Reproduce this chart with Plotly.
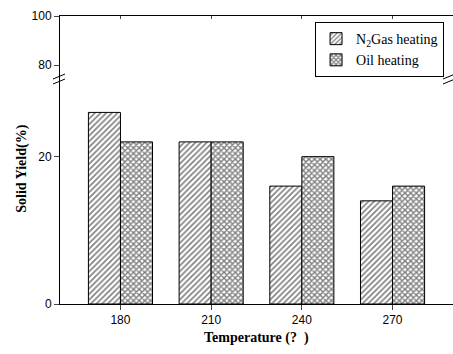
import plotly.graph_objects as go

temperatures = [180, 210, 240, 270]
n2_gas = [26, 22, 16, 14]
oil = [22, 22, 20, 16]
tick_labels = ["180", "210", "240", "270"]

BW = 10.6
fig = go.Figure()
fig.add_trace(go.Bar(
    x=temperatures, y=n2_gas, name="N<sub>2</sub>Gas heating",
    width=BW, offset=-BW,
    marker=dict(color="white", line=dict(color="black", width=1),
                pattern=dict(shape="/", fgcolor="black", bgcolor="white", size=4, solidity=0.4)),
    xaxis="x", yaxis="y"))
fig.add_trace(go.Bar(
    x=temperatures, y=oil, name="Oil heating",
    width=BW, offset=0,
    marker=dict(color="white", line=dict(color="black", width=1),
                pattern=dict(shape="x", fgcolor="black", bgcolor="white", size=4, solidity=0.6)),
    xaxis="x", yaxis="y"))

split = 224 / 288
axis_common = dict(showline=True, linecolor="black", linewidth=1, showgrid=False, zeroline=False)
fig.update_layout(
    width=453, height=354,
    margin=dict(l=60, r=0, t=16, b=50),
    paper_bgcolor="white", plot_bgcolor="white",
    barmode="overlay",
    font=dict(family="Liberation Sans", size=12, color="black"),
    xaxis=dict(range=[160, 290], tickvals=temperatures, ticktext=tick_labels,
               ticks="outside", ticklen=5, anchor="y", **axis_common),
    xaxis2=dict(range=[160, 290], tickvals=temperatures, showticklabels=False,
                ticks="inside", ticklen=3, anchor="y2", side="top", overlaying="x", **axis_common),
    yaxis=dict(domain=[0, split], range=[0, 30.4], tickvals=[0, 20],
               ticks="outside", ticklen=5, anchor="x", **axis_common),
    yaxis2=dict(domain=[split, 1], range=[74, 100], tickvals=[80, 100],
                ticks="outside", ticklen=5, anchor="x", **axis_common),
    legend=dict(x=0.649, y=0.979, xanchor="left", yanchor="top",
                bordercolor="black", borderwidth=1, bgcolor="white",
                font=dict(family="Liberation Serif", size=14), tracegroupgap=0,
                itemwidth=30),
    showlegend=True,
)
fig.add_trace(go.Scatter(x=[None], y=[None], xaxis="x2", yaxis="y2", showlegend=False))

fig.add_annotation(text="<b>Solid Yield(%)</b>", xref="paper", yref="paper",
                   x=-0.122, y=0.47, textangle=-90, showarrow=False,
                   font=dict(family="Liberation Serif", size=14))
fig.add_annotation(text="<b>Temperature (?  )</b>", xref="paper", yref="paper",
                   x=0.5, y=-0.118, yanchor="middle", showarrow=False,
                   font=dict(family="Liberation Serif", size=14))

def px_to_paper(px, py):
    return ((px - 60) / 393, (304 - py) / 288)

for dy in (0, -5):
    for cx in (59, 449):
        x0, y0 = px_to_paper(cx - 6, 84 + dy)
        x1, y1 = px_to_paper(cx + 6, 79 + dy)
        fig.add_shape(type="line", xref="paper", yref="paper", x0=x0, y0=y0, x1=x1, y1=y1,
                      line=dict(color="black", width=1))

fig.write_html("out.html", config={"displayModeBar": False},
               post_script="document.body.style.margin='0';")
